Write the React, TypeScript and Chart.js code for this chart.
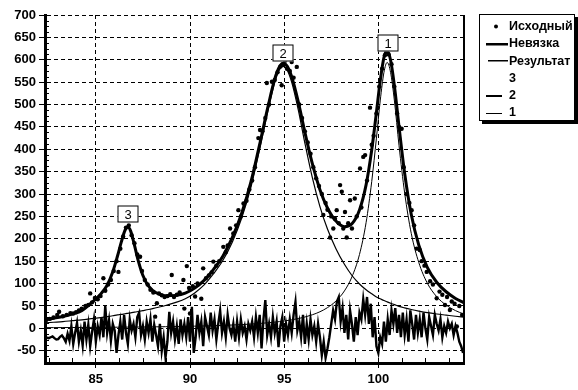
import React, { useEffect, useRef } from 'react';
import { Chart, registerables } from 'chart.js';
Chart.register(...registerables);

// ---- fitted curves (x grid shared by model curves) ----
const fitX = [82.25, 82.75, 83.25, 83.75, 84.25, 84.75, 85.25, 85.6, 85.9, 86.15, 86.35, 86.55, 86.7, 86.85, 87.05, 87.25, 87.5, 87.8, 88.2, 88.7, 89.25, 89.75, 90.25, 90.75, 91.25, 91.75, 92.25, 92.75, 93.25, 93.75, 94.15, 94.5, 94.75, 94.95, 95.15, 95.4, 95.75, 96.1, 96.5, 96.9, 97.3, 97.75, 98.2, 98.6, 99.0, 99.35, 99.65, 99.9, 100.1, 100.3, 100.47, 100.65, 100.85, 101.1, 101.4, 101.75, 102.15, 102.6, 103.1, 103.6, 104.1, 104.55];

const comp1 = [1.5, 1.6, 1.7, 1.8, 1.9, 2.0, 2.2, 2.3, 2.4, 2.5, 2.5, 2.6, 2.7, 2.7, 2.8, 2.9, 3.0, 3.1, 3.3, 3.6, 4.0, 4.4, 4.8, 5.3, 5.9, 6.6, 7.4, 8.4, 9.5, 11, 12.4, 13.8, 15, 16.1, 17.3, 19, 21.8, 25.2, 30.3, 37, 46.2, 60.9, 83.5, 115, 165, 236, 328, 425, 508, 572, 594, 572, 510, 408, 302, 212, 147, 101, 70.7, 51.9, 39.5, 31.7];

const comp2 = [12, 13.5, 15, 17, 19, 21.5, 24, 26, 28, 30, 31, 32.5, 33.5, 34.5, 36, 37.5, 39.5, 42, 46, 51, 58, 66, 79, 97, 122, 152, 193, 247, 318, 410, 488, 550, 578, 585, 578, 550, 488, 414, 336, 272, 222, 178, 143, 118, 99, 86, 77, 70, 66, 62, 59, 56, 53, 49, 45.5, 42, 38.5, 35, 32, 29.5, 27, 25];

const comp3 = [6.0, 7.5, 9.7, 13, 18.3, 33, 50, 68, 96, 129, 159, 184, 190, 180, 147, 111, 75.5, 49, 30, 18, 11.6, 8.3, 6.2, 4.8, 3.8, 3.1, 2.6, 2.2, 1.9, 1.6, 1.4, 1.3, 1.25, 1.2, 1.15, 1.1, 1.0, 0.9, 0.85, 0.8, 0.7, 0.7, 0.6, 0.6, 0.5, 0.5, 0.5, 0.45, 0.4, 0.4, 0.4, 0.4, 0.4, 0.4, 0.35, 0.3, 0.3, 0.3, 0.3, 0.25, 0.25, 0.2];

const result = [19.5, 22.6, 26.4, 31.8, 39.2, 56.5, 76.2, 96.3, 126.4, 161.5, 192.5, 219.1, 226.2, 217.2, 185.8, 151.4, 118, 94.1, 79.3, 72.6, 73.6, 78.7, 90, 107.1, 131.7, 161.7, 203, 257.6, 329.4, 420.6, 496.8, 557.1, 584.3, 592.3, 586.5, 562.1, 505.8, 438.1, 367.2, 309.8, 268.9, 239.6, 227.1, 233.6, 264.5, 320.5, 398.5, 482.5, 552.4, 605.4, 619.4, 599.4, 543.4, 450.4, 345.9, 254.3, 185.8, 136.3, 103, 81.7, 66.8, 56.9];

// ---- residual (Невязка), sampled from 82.3 with step 0.1 ----
const residualStart = 82.3;
const residualStep = 0.1;
const residual = [
  -20, -21, -22, -20, -18, -22, -25, -24, -19, -16,
  -22, -30, -12, -28, 5, -35, -10, 12, -30, -5,
  -38, 15, -25, 8, -40, -8, 20, -30, 5, -15,
  25, -20, 50, -10, 18, -28, 10, -5, -55, -15,
  15, -25, 30, -10, -35, 20, -5, 10, -20, 25,
  35, -15, 5, -25, 15, -10, 20, -30, 8, -15,
  -40, 10, -50, -20, -65, -30, 37, -10, 15, -25,
  5, -35, 20, -15, 10, -20, 25, -30, 48, -55,
  -20, 30, -10, 15, -40, 25, 5, -15, 35, -5,
  20, -25, 10, 40, -10, 15, -20, 30, 0, -15,
  10, -30, 15, -20, 20, -10, 5, -25, 10, -5,
  15, -20, 25, -10, 30, -45, 20, 63, -15, 10,
  -20, 25, -10, 15, -42, 5, 25, -30, 10, -15,
  20, -10, 30, 59, -5, 15, -20, 30, -35, 10,
  -25, 20, -15, 5, -30, 10, -20, -60, -30, -66,
  -45, -20, 10, 40, 20, 60, 70, 15, 45, -10,
  30, -25, 40, 10, -30, 25, -15, 35, 20, 65,
  30, 70, 10, 55, -20, 25, -40, -55, -20, -35,
  15, -30, 20, -15, 40, 10, 45, -10, 30, -20,
  35, -15, 20, -30, 40, 10, -25, 30, -10, 20,
  -20, 35, 0, -25, 25, 5, -15, 30, 10, -5,
  20, -20, 5, -10, 15, 0, 10, -15, 5, -10,
  -30, -40, -55,
];

// ---- measured points (Исходный) ----
const dataX = [82.35, 82.55, 82.75, 82.95, 83.05, 83.25, 83.45, 83.65, 83.8, 83.95, 84.1, 84.25, 84.45, 84.6, 84.7, 84.8, 84.95, 85.1, 85.25, 85.4, 85.5, 85.65, 85.8, 85.95, 86.1, 86.2, 86.3, 86.45, 86.6, 86.75, 86.9, 87.05, 87.2, 87.35, 87.45, 87.6, 87.75, 87.9, 88.05, 88.15, 88.24, 88.35, 88.5, 88.65, 88.8, 88.95, 89.03, 89.15, 89.3, 89.45, 89.65, 89.7, 89.83, 89.95, 90.0, 90.15, 90.27, 90.4, 90.6, 90.7, 90.85, 91.0, 91.15, 91.24, 91.4, 91.55, 91.77, 91.9, 92.0, 92.13, 92.3, 92.45, 92.57, 92.7, 92.84, 93.0, 93.15, 93.3, 93.45, 93.63, 93.72, 93.85, 94.0, 94.08, 94.2, 94.35, 94.5, 94.65, 94.8, 94.87, 94.95, 95.05, 95.15, 95.3, 95.4, 95.5, 95.67, 95.8, 95.95, 96.1, 96.25, 96.4, 96.55, 96.7, 96.85, 97.0, 97.08, 97.2, 97.3, 97.44, 97.5, 97.61, 97.7, 97.79, 97.9, 97.97, 98.06, 98.14, 98.23, 98.32, 98.4, 98.5, 98.6, 98.75, 98.85, 99.03, 99.1, 99.2, 99.3, 99.4, 99.56, 99.65, 99.75, 99.9, 100.05, 100.2, 100.35, 100.45, 100.55, 100.7, 100.85, 101.0, 101.1, 101.24, 101.35, 101.5, 101.65, 101.77, 101.9, 102.04, 102.2, 102.3, 102.45, 102.57, 102.75, 102.9, 103.1, 103.25, 103.4, 103.54, 103.65, 103.8, 103.9, 104.05, 104.17, 104.3, 104.45];
const dataY = [18, 21, 24, 30, 37, 27, 30, 34, 33, 36, 40, 44, 50, 52, 78, 58, 68, 65, 72, 112, 84, 98, 108, 128, 150, 126, 178, 205, 225, 230, 208, 190, 165, 160, 128, 108, 98, 86, 80, 26, 56, 78, 74, 70, 72, 76, 119, 70, 75, 80, 108, 44, 139, 90, 33, 94, 71, 100, 66, 134, 112, 118, 125, 149, 140, 150, 182, 170, 185, 223, 212, 230, 264, 250, 279, 285, 310, 330, 360, 425, 443, 440, 470, 548, 500, 551, 555, 572, 585, 543, 590, 598, 580, 575, 595, 560, 584, 500, 470, 440, 415, 390, 360, 335, 318, 300, 253, 280, 265, 203, 250, 223, 245, 264, 235, 320, 305, 223, 260, 203, 235, 286, 223, 290, 250, 357, 270, 383, 387, 330, 493, 410, 430, 480, 540, 580, 610, 618, 612, 590, 540, 480, 450, 446, 360, 300, 280, 264, 230, 178, 175, 150, 140, 126, 105, 98, 67, 82, 75, 52, 70, 41, 60, 55, 4, 50, 30];

// ---- axes ----
const xMajorTicks = [85, 90, 95, 100];
const xMinorTicks = [82.5, 83.75, 86.25, 87.5, 88.75, 91.25, 92.5, 93.75, 96.25, 97.5, 98.75, 101.25, 102.5, 103.75];
const yMajorTicks = [-50, 0, 50, 100, 150, 200, 250, 300, 350, 400, 450, 500, 550, 600, 650, 700];
const xMin = 82.3, xMax = 104.55, yMin = -77.5, yMax = 700;

const legendLabels = ['Исходный', 'Невязка', 'Результат', '3', '2', '1'];
const peakLabels = ['1', '2', '3'];
const peakLabelX = [100.49, 94.94, 86.7];
const peakLabelY = [638, 614, 255];

const FONT = '"Liberation Sans", Arial, sans-serif';

export default function App() {
  const ref = useRef<HTMLCanvasElement>(null);
  useEffect(() => {
    const canvas = ref.current!;
    const pts = (xs: number[], ys: number[]) => xs.map((x, i) => ({ x, y: ys[i] }));
    const residualPts = residual.map((y, i) => ({ x: +(residualStart + i * residualStep).toFixed(3), y }));
    const yMinor: number[] = [];
    for (let i = 0; i < yMajorTicks.length; i++) {
      for (const d of [-37.5, -25, -12.5]) {
        const v = yMajorTicks[i] + d;
        if (v >= yMin) yMinor.push(v);
      }
    }

    const decor = {
      id: 'decor',
      afterDraw(chart: any) {
        const { ctx, chartArea: a, scales } = chart;
        const xs = scales.x, ys = scales.y;
        ctx.save();
        // right frame
        ctx.fillStyle = '#000';
        ctx.fillRect(a.right - 1, a.top, 2, a.bottom - a.top + 1);
        // minor ticks inside
        ctx.strokeStyle = '#000';
        ctx.lineWidth = 1;
        ctx.beginPath();
        for (const v of xMinorTicks) {
          const px = Math.round(xs.getPixelForValue(v)) + 0.5;
          ctx.moveTo(px, a.bottom - 1);
          ctx.lineTo(px, a.bottom - 5);
        }
        for (const v of yMinor) {
          const py = Math.round(ys.getPixelForValue(v)) + 0.5;
          ctx.moveTo(a.left + 1, py);
          ctx.lineTo(a.left + 4, py);
        }
        ctx.stroke();
        // peak labels
        ctx.font = `13px ${FONT}`;
        ctx.textAlign = 'center';
        ctx.textBaseline = 'middle';
        for (let i = 0; i < peakLabels.length; i++) {
          const cx = Math.round(xs.getPixelForValue(peakLabelX[i]));
          const cy = Math.round(ys.getPixelForValue(peakLabelY[i]));
          const w = 21, h = 17;
          ctx.fillStyle = '#fff';
          ctx.fillRect(cx - w / 2, cy - h / 2, w, h);
          ctx.strokeStyle = '#000';
          ctx.lineWidth = 1;
          ctx.strokeRect(cx - w / 2 + 0.5, cy - h / 2 + 0.5, w - 1, h - 1);
          ctx.fillStyle = '#000';
          ctx.fillText(peakLabels[i], cx, cy + 1);
        }
        // legend
        const lx = 479, ly = 14, lw = 96, lh = 107;
        ctx.fillStyle = '#000';
        ctx.fillRect(lx + 3, ly + 3, lw, lh);
        ctx.fillStyle = '#fff';
        ctx.fillRect(lx, ly, lw, lh);
        ctx.strokeStyle = '#000';
        ctx.lineWidth = 1;
        ctx.strokeRect(lx + 0.5, ly + 0.5, lw - 1, lh - 1);
        ctx.font = `bold 12.5px ${FONT}`;
        ctx.textAlign = 'left';
        ctx.fillStyle = '#000';
        for (let i = 0; i < legendLabels.length; i++) {
          const y = ly + 12.5 + i * 17.3;
          ctx.fillText(legendLabels[i], 509, y);
          ctx.beginPath();
          if (i === 0) {
            ctx.arc(496, y, 2, 0, Math.PI * 2);
            ctx.fill();
          } else if (i === 1) {
            ctx.fillRect(486, Math.round(y) - 1, 22, 2.5);
          } else if (i === 2) {
            ctx.fillRect(488, Math.round(y) - 1, 20, 1.5);
          } else if (i === 4) {
            ctx.fillRect(486, Math.round(y) - 1, 16, 2);
          } else if (i === 5) {
            ctx.fillRect(486, Math.round(y), 16, 1);
          }
        }
        ctx.restore();
      },
    };

    const majorX = new Set(xMajorTicks);
    const tickFont = { family: FONT, size: 13, weight: 'bold' as const };

    const chart = new Chart(canvas, {
      type: 'scatter',
      data: {
        datasets: [
          { label: 'Исходный', data: pts(dataX, dataY), showLine: false, pointRadius: 2.2, pointStyle: 'circle', pointBackgroundColor: '#000', pointBorderWidth: 0, order: 0 } as any,
          { label: 'Результат', data: pts(fitX, result), showLine: true, borderColor: '#000', borderWidth: 3, pointRadius: 0, cubicInterpolationMode: 'monotone', order: 1 },
          { label: '1', data: pts(fitX, comp1), showLine: true, borderColor: '#000', borderWidth: 1, pointRadius: 0, cubicInterpolationMode: 'monotone', order: 2 },
          { label: '2', data: pts(fitX, comp2), showLine: true, borderColor: '#000', borderWidth: 1.2, pointRadius: 0, cubicInterpolationMode: 'monotone', order: 3 },
          { label: '3', data: pts(fitX, comp3), showLine: true, borderColor: 'rgba(0,0,0,0)', borderWidth: 1, pointRadius: 0, cubicInterpolationMode: 'monotone', order: 4 },
          { label: 'Невязка', data: residualPts, showLine: true, borderColor: '#000', borderWidth: 2.4, pointRadius: 0, tension: 0, order: 5 },
        ],
      },
      options: {
        responsive: false,
        animation: false,
        devicePixelRatio: 1,
        layout: { padding: { left: 0, right: 578 - 464, top: 15, bottom: 0 } },
        plugins: { legend: { display: false }, tooltip: { enabled: false } },
        scales: {
          x: {
            type: 'linear',
            min: xMin,
            max: xMax,
            afterBuildTicks: (s: any) => { s.ticks = [...xMinorTicks, ...xMajorTicks].sort((a, b) => a - b).map((v) => ({ value: v })); },
            afterFit: (s: any) => { s.height = 27; },
            ticks: {
              autoSkip: false, maxRotation: 0, padding: 4, color: '#000', font: tickFont,
              callback: (v: any) => (majorX.has(v) ? String(v) : ''),
            },
            grid: {
              color: (c: any) => (majorX.has(c.tick?.value) ? '#000' : 'rgba(0,0,0,0)'),
              tickColor: (c: any) => (majorX.has(c.tick?.value) ? '#000' : 'rgba(0,0,0,0)'),
              lineWidth: 1, tickLength: 5, tickWidth: 1,
            },
            border: { display: true, color: '#000', width: 3, dash: [4, 3] },
          },
          y: {
            type: 'linear',
            min: yMin,
            max: yMax,
            afterBuildTicks: (s: any) => { s.ticks = yMajorTicks.map((v) => ({ value: v })); },
            afterFit: (s: any) => { s.width = 45; },
            ticks: { autoSkip: false, padding: 3, color: '#000', font: tickFont, callback: (v: any) => String(v) },
            grid: { color: '#000', tickColor: '#000', lineWidth: 1, tickLength: 6, tickWidth: 1 },
            border: { display: true, color: '#000', width: 3, dash: [4, 3] },
          },
        },
      },
      plugins: [decor],
    });
    return () => chart.destroy();
  }, []);

  return (
    <div style={{ position: 'absolute', left: 0, top: 0, width: 578, height: 390, background: '#fff' }}>
      <canvas ref={ref} width={578} height={390} style={{ display: 'block' }} />
    </div>
  );
}
